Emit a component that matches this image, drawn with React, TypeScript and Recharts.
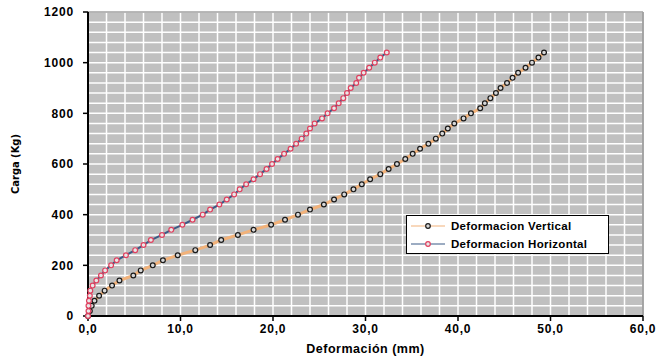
import { CartesianGrid, Line, LineChart, ReferenceLine, XAxis, YAxis } from "recharts";

const cargas = [
  0, 20, 40, 60, 80, 100, 120, 140, 160, 180, 200, 220, 240, 260, 280, 300, 320, 340, 360, 380,
  400, 420, 440, 460, 480, 500, 520, 540, 560, 580, 600, 620, 640, 660, 680, 700, 720, 740, 760,
  780, 800, 820, 840, 860, 880, 900, 920, 940, 960, 980, 1000, 1020, 1040,
];

const defVertical = [
  0, 0.2, 0.4, 0.7, 1.2, 1.8, 2.6, 3.4, 4.9, 5.7, 7.0, 8.1, 9.7, 11.6, 13.2, 14.4, 16.2, 17.9,
  19.8, 21.3, 22.7, 24.0, 25.5, 26.6, 27.7, 28.7, 29.6, 30.5, 31.6, 32.5, 33.4, 34.3, 35.1, 35.9,
  36.8, 37.6, 38.3, 38.9, 39.6, 40.6, 41.4, 42.4, 42.9, 43.5, 44.1, 44.6, 45.3, 45.9, 46.5, 47.3,
  48.0, 48.7, 49.3,
];

const defHorizontal = [
  0, 0.05, 0.05, 0.1, 0.2, 0.25, 0.5, 0.9, 1.4, 1.85, 2.5, 3.1, 4.1, 5.1, 6.0, 6.8, 8.0, 9.0,
  10.2, 11.3, 12.4, 13.2, 14.2, 15.0, 15.8, 16.4, 17.1, 17.9, 18.6, 19.3, 19.9, 20.5, 21.2, 21.9,
  22.5, 23.1, 23.6, 24.0, 24.5, 25.3, 25.9, 26.6, 27.1, 27.6, 28.0, 28.4, 29.0, 29.3, 29.8, 30.4,
  31.0, 31.6, 32.3,
];

const xTicks = [0, 10, 20, 30, 40, 50, 60];
const yTicks = [0, 200, 400, 600, 800, 1000, 1200];
const xGrid = [0, 2, 4, 6, 8, 10, 12, 14, 16, 18, 20, 22, 24, 26, 28, 30, 32, 34, 36, 38, 40, 42, 44, 46, 48, 50, 52, 54, 56, 58, 60];
const yGrid = [
  0, 40, 80, 120, 160, 200, 240, 280, 320, 360, 400, 440, 480, 520, 560, 600, 640, 680, 720, 760,
  800, 840, 880, 920, 960, 1000, 1040, 1080, 1120, 1160, 1200,
];

const series = [
  {
    name: "Deformacion Vertical",
    line: "#F2B27A",
    width: 3,
    dotStroke: "#1a1a1a",
    dotFill: "#d8d8d8",
    data: cargas.map((c, i) => ({ def: defVertical[i], carga: c })),
  },
  {
    name: "Deformacion Horizontal",
    line: "#3B5A85",
    width: 2,
    dotStroke: "#E0405F",
    dotFill: "#e8e8e8",
    data: cargas.map((c, i) => ({ def: defHorizontal[i], carga: c })),
  },
];

const font = "'Liberation Sans', Arial, sans-serif";
const tickStyle = { fontSize: 12, fontWeight: 700, fill: "#000", fontFamily: font, letterSpacing: 0.8 };

const fmt = (v: number) => v.toFixed(1).replace(".", ",");

function LegendBox() {
  return (
    <div
      style={{
        position: "absolute",
        left: 406,
        top: 215,
        width: 201,
        height: 36,
        background: "#fff",
        border: "1px solid #000",
        fontFamily: font,
        fontWeight: 700,
        fontSize: 11.5,
        letterSpacing: 0.3,
        paddingTop: 1,
      }}
    >
      {series.map((s) => (
        <div key={s.name} style={{ display: "flex", alignItems: "center", height: 18 }}>
          <svg width={40} height={10} style={{ marginLeft: 2 }}>
            <line x1={2} y1={5} x2={36} y2={5} stroke={s.line} strokeWidth={1.2} />
            <circle cx={19} cy={5} r={2.3} stroke={s.dotStroke} strokeWidth={1.2} fill={s.dotFill} />
          </svg>
          <span style={{ marginLeft: 2 }}>{s.name}</span>
        </div>
      ))}
    </div>
  );
}

export default function App() {
  return (
    <div style={{ position: "absolute", left: 0, top: 0, width: 658, height: 360 }}>
      <LineChart width={658} height={360} margin={{ top: 12, right: 15, bottom: 4, left: 8 }}>
        <CartesianGrid
          fill="#C0C0C0"
          fillOpacity={1}
          stroke="#ffffff"
          strokeWidth={1.5}
          verticalCoordinatesGenerator={({ offset }: any) =>
            xGrid.map((v) => offset.left + (v / 60) * offset.width)
          }
          horizontalCoordinatesGenerator={({ offset }: any) =>
            yGrid.map((v) => offset.top + (1 - v / 1200) * offset.height)
          }
        />
        <XAxis
          type="number"
          dataKey="def"
          domain={[0, 60]}
          ticks={xTicks}
          tickFormatter={fmt}
          height={40}
          tick={tickStyle}
          tickSize={5}
          tickMargin={3}
          axisLine={{ stroke: "#000", strokeWidth: 2 }}
          tickLine={{ stroke: "#000", strokeWidth: 1.5 }}
          label={({ viewBox }: any) => (
            <text
              x={viewBox.x + viewBox.width / 2}
              y={viewBox.y + 37}
              textAnchor="middle"
              fontFamily={font}
              fontWeight={700}
              fontSize={12.5}
              letterSpacing={0.5}
              fill="#000"
            >
              Deformación (mm)
            </text>
          )}
        />
        <YAxis
          type="number"
          dataKey="carga"
          domain={[0, 1200]}
          ticks={yTicks}
          width={80}
          tick={tickStyle}
          tickSize={5}
          tickMargin={9}
          axisLine={{ stroke: "#000", strokeWidth: 2 }}
          tickLine={{ stroke: "#000", strokeWidth: 1.5 }}
          label={({ viewBox }: any) => {
            const cx = viewBox.x + 7;
            const cy = viewBox.y + viewBox.height / 2;
            return (
              <text
                x={cx}
                y={cy}
                transform={`rotate(-90, ${cx}, ${cy})`}
                textAnchor="middle"
                dominantBaseline="central"
                fontFamily="'DejaVu Sans Condensed', 'Liberation Sans Narrow', Arial, sans-serif"
                fontStretch="condensed"
                fontWeight={700}
                fontSize={11}
                fill="#000"
              >
                Carga (Kg)
              </text>
            );
          }}
        />
        <ReferenceLine x={60} stroke="#8a8a8a" strokeWidth={1.5} />
        <ReferenceLine y={1200} stroke="#a0a0a0" strokeWidth={1.5} />
        {series.map((s) => (
          <Line
            key={s.name}
            data={s.data}
            dataKey="carga"
            name={s.name}
            type="linear"
            stroke={s.line}
            strokeWidth={s.width}
            dot={{ r: 2.4, stroke: s.dotStroke, strokeWidth: 1.2, fill: s.dotFill }}
            activeDot={false}
            isAnimationActive={false}
          />
        ))}
      </LineChart>
      <LegendBox />
    </div>
  );
}
